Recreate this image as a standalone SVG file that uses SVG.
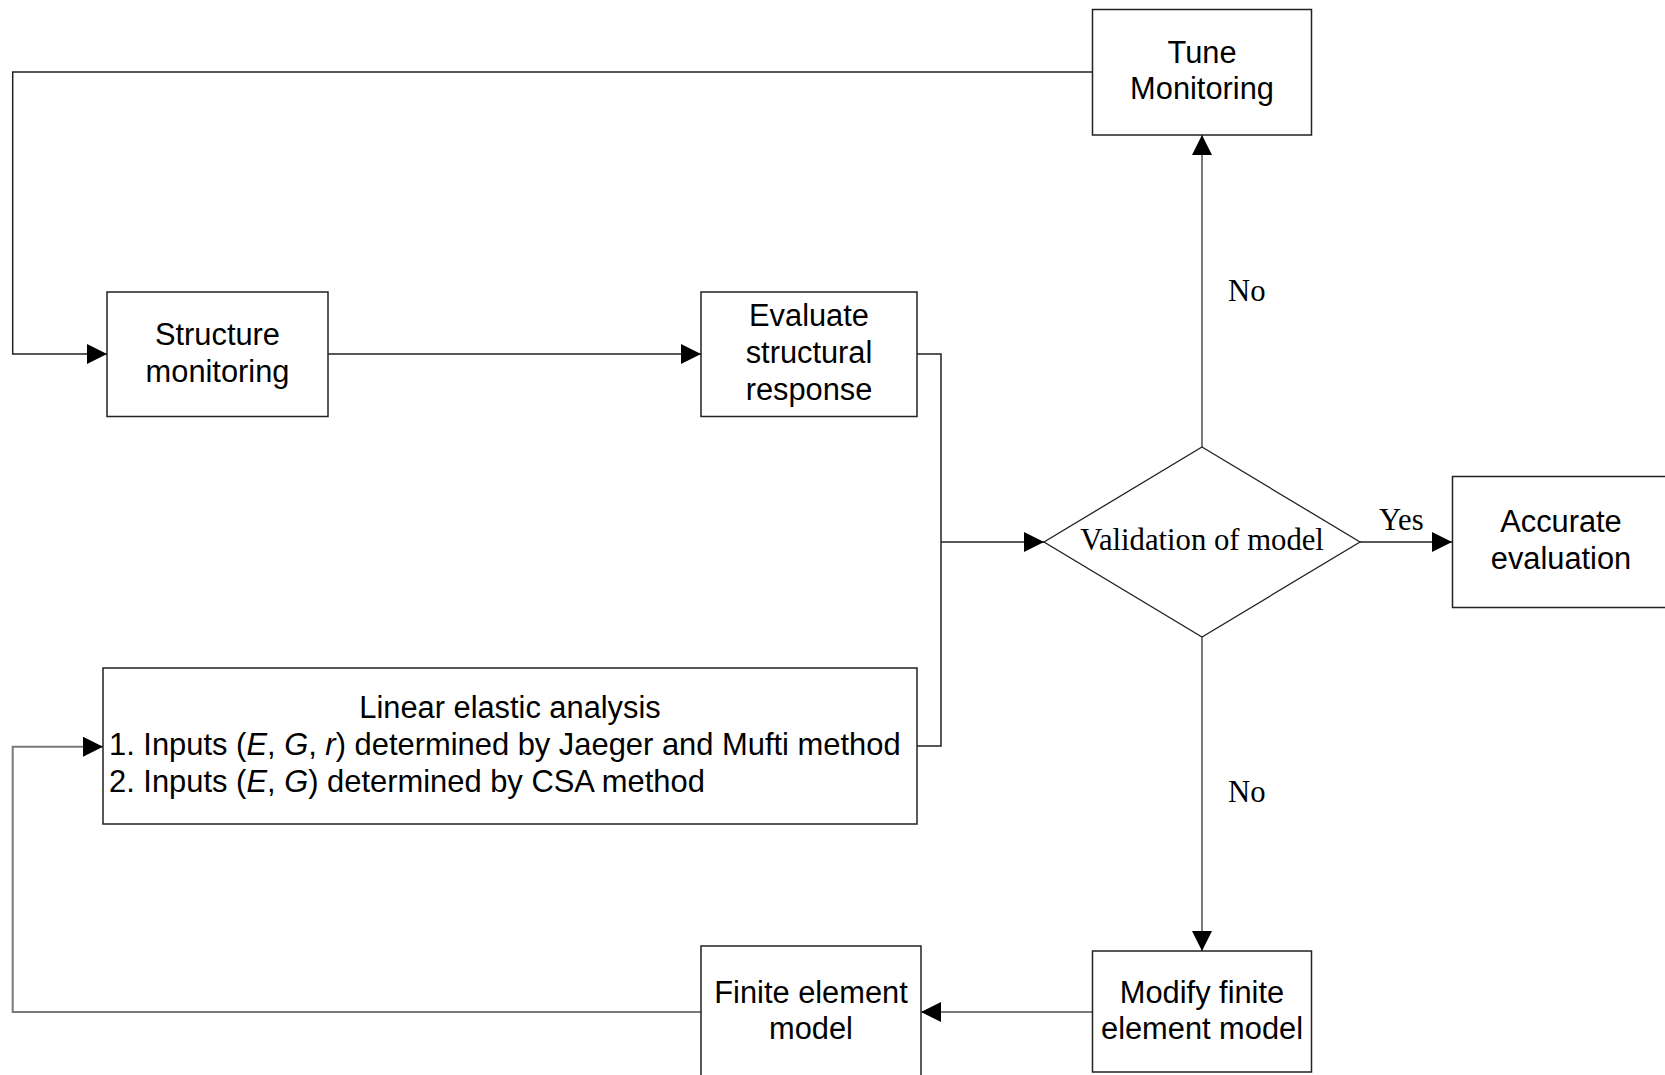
<svg xmlns="http://www.w3.org/2000/svg" width="1665" height="1075" viewBox="0 0 1665 1075">
<style>
.box{fill:#fff;stroke:#222;stroke-width:1.5}
.t{font-family:"Liberation Sans",Arial,sans-serif;font-size:30.8px;fill:#000;text-anchor:middle}
.tl{font-family:"Liberation Sans",Arial,sans-serif;font-size:30.9px;fill:#000}
.s{font-family:"Liberation Serif","Times New Roman",serif;font-size:30.7px;fill:#000}
.c{fill:none;stroke:#222;stroke-width:1.5}
.g{fill:none;stroke:#7a7a7a;stroke-width:2}
</style>
<defs>
<marker id="ah" markerUnits="userSpaceOnUse" markerWidth="20" markerHeight="20" viewBox="0 0 18 18" refX="18" refY="9" orient="auto">
<path d="M0,0 L18,9 L0,18 Z" fill="#000"/>
</marker>
</defs>
<rect width="1665" height="1075" fill="#fff"/>
<g id="connectors">
<path class="c" d="M1092,72 H12.7 V354 H107" marker-end="url(#ah)"/>
<path class="c" d="M328,354 H701" marker-end="url(#ah)"/>
<path class="c" d="M917,354 H941 V746 H917"/>
<path class="c" d="M941,542 H1044" marker-end="url(#ah)"/>
<path class="g" d="M1202,447 V135" marker-end="url(#ah)"/>
<path class="c" d="M1360,542 H1452" marker-end="url(#ah)"/>
<path class="g" d="M1202,637 V951" marker-end="url(#ah)"/>
<path class="g" d="M1092,1012 H921" marker-end="url(#ah)"/>
<path class="g" d="M701,1012 H12.7 V746.7 H103" marker-end="url(#ah)"/>
<text class="s" x="1228" y="301">No</text>
<text class="s" x="1228" y="802">No</text>
<text class="s" x="1379" y="530">Yes</text>
</g>
<g id="tune">
<rect class="box" x="1092.5" y="9.5" width="219" height="125.5"/>
<text class="t" x="1202" y="63">Tune</text>
<text class="t" x="1202" y="99">Monitoring</text>
</g>
<g id="structure">
<rect class="box" x="107" y="292" width="221" height="124.5"/>
<text class="t" x="217.5" y="345">Structure</text>
<text class="t" x="217.5" y="382">monitoring</text>
</g>
<g id="evaluate">
<rect class="box" x="701" y="292" width="216" height="124.5"/>
<text class="t" x="809" y="326">Evaluate</text>
<text class="t" x="809" y="363">structural</text>
<text class="t" x="809" y="400">response</text>
</g>
<g id="validation">
<polygon points="1202,447 1360,542 1202,637 1044,542" fill="#fff" stroke="#222" stroke-width="1.3"/>
<text class="s" x="1202" y="550" text-anchor="middle">Validation of model</text>
</g>
<g id="accurate">
<rect class="box" x="1452.5" y="476.5" width="219" height="131"/>
<text class="t" x="1561" y="532">Accurate</text>
<text class="t" x="1561" y="569">evaluation</text>
</g>
<g id="linear">
<rect class="box" x="103" y="668" width="814" height="156"/>
<text class="t" x="510" y="718">Linear elastic analysis</text>
<text class="tl" x="109" y="755">1. Inputs (<tspan font-style="italic">E</tspan>, <tspan font-style="italic">G</tspan>, <tspan font-style="italic">r</tspan>) determined by Jaeger and Mufti method</text>
<text class="tl" x="109" y="792">2. Inputs (<tspan font-style="italic">E</tspan>, <tspan font-style="italic">G</tspan>) determined by CSA method</text>
</g>
<g id="fem">
<rect class="box" x="701" y="946" width="220" height="140"/>
<text class="t" x="811" y="1003">Finite element</text>
<text class="t" x="811" y="1039">model</text>
</g>
<g id="modify">
<rect class="box" x="1092.5" y="951" width="219" height="121"/>
<text class="t" x="1202" y="1003">Modify finite</text>
<text class="t" x="1202" y="1039">element model</text>
</g>
</svg>
